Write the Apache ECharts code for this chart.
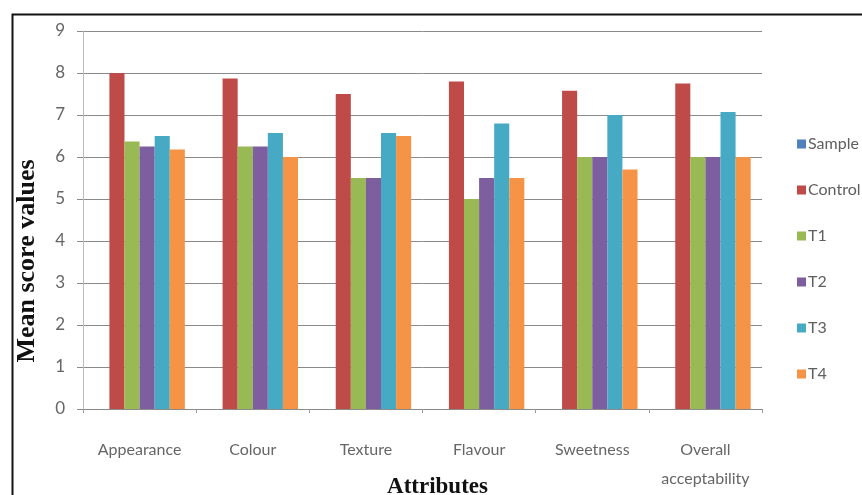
<!DOCTYPE html>
<html>
<head>
<meta charset="utf-8">
<script src="https://cdn.jsdelivr.net/npm/echarts@6/dist/echarts.min.js"></script>
<style>
  html, body { margin: 0; padding: 0; background: #ffffff; }
  #chart { width: 862px; height: 495px; }
</style>
</head>
<body>
<div id="chart"></div>
<script>
// Sensory attributes scored by panel
const categories = ['Appearance', 'Colour', 'Texture', 'Flavour', 'Sweetness', 'Overall\nacceptability'];

// Mean scores per treatment
const sample  = ['-', '-', '-', '-', '-', '-'];
const control = [8.0, 7.87, 7.5, 7.8, 7.58, 7.75];
const t1      = [6.37, 6.25, 5.5, 5.0, 6.0, 6.0];
const t2      = [6.25, 6.25, 5.5, 5.5, 6.0, 6.0];
const t3      = [6.5, 6.57, 6.57, 6.8, 7.0, 7.07];
const t4      = [6.18, 6.0, 6.5, 5.5, 5.7, 6.0];

const yTicks = { min: 0, max: 9, interval: 1 };

const seriesNames = ['Sample', 'Control', 'T1', 'T2', 'T3', 'T4'];
const seriesData = [sample, control, t1, t2, t3, t4];
const palette = ['#4F81BD', '#BE4B48', '#98B954', '#7D5FA0', '#46AAC5', '#F59447'];

const chart = echarts.init(document.getElementById('chart'), null, { renderer: 'canvas' });

chart.setOption({
  animation: false,
  backgroundColor: '#ffffff',
  color: palette,
  grid: { left: 83, right: 100, top: 31, bottom: 86, containLabel: false, outerBoundsMode: 'none' },
  legend: {
    orient: 'vertical',
    left: 792,
    top: 131,
    itemWidth: 9,
    itemHeight: 9,
    itemGap: 30,
    icon: 'rect',
    textStyle: { fontFamily: 'Lato', fontSize: 16, color: '#5f5f5f', padding: [0, 0, 0, -3] },
    data: seriesNames
  },
  xAxis: {
    type: 'category',
    data: categories,
    name: 'Attributes',
    nameLocation: 'middle',
    nameGap: 78,
    nameMoveOverlap: false,
    nameTextStyle: { fontFamily: 'Liberation Serif', fontWeight: 'bold', fontSize: 23, color: '#111111', verticalAlign: 'middle', padding: [0, 0, 0, 30] },
    axisLine: { show: true, lineStyle: { color: '#8a8a8a', width: 1 } },
    axisTick: { show: true, alignWithLabel: false, length: 4, lineStyle: { color: '#9a9a9a' } },
    axisLabel: { fontFamily: 'Lato', fontSize: 16, color: '#666666', margin: 26, lineHeight: 29, interval: 0 },
    splitLine: { show: false }
  },
  yAxis: {
    type: 'value',
    min: yTicks.min,
    max: yTicks.max,
    interval: yTicks.interval,
    name: 'Mean score values',
    nameLocation: 'middle',
    nameGap: 56,
    nameRotate: 90,
    nameMoveOverlap: false,
    nameTextStyle: { fontFamily: 'Liberation Serif', fontWeight: 'bold', fontSize: 26, color: '#111111', verticalAlign: 'middle', padding: [0, 82, 0, 0] },
    axisLine: { show: true, lineStyle: { color: '#bdbdbd', width: 1 } },
    axisTick: { show: true, inside: false, length: 6, lineStyle: { color: '#8a8a8a' } },
    axisLabel: { fontFamily: 'Lato', fontSize: 17, color: '#666666', margin: 18 },
    splitLine: { show: true, lineStyle: { color: '#8a8a8a', width: 1 } }
  },
  series: seriesNames.map((name, i) => ({
    name: name,
    type: 'bar',
    data: seriesData[i],
    barGap: '0%',
    barCategoryGap: '20%',
    itemStyle: { color: palette[i] }
  })),
  graphic: [{
    type: 'rect',
    left: 10,
    top: 12,
    shape: { width: 900, height: 520 },
    style: { fill: 'none', stroke: '#111111', lineWidth: 2 },
    z: 100
  }]
});
</script>
</body>
</html>
